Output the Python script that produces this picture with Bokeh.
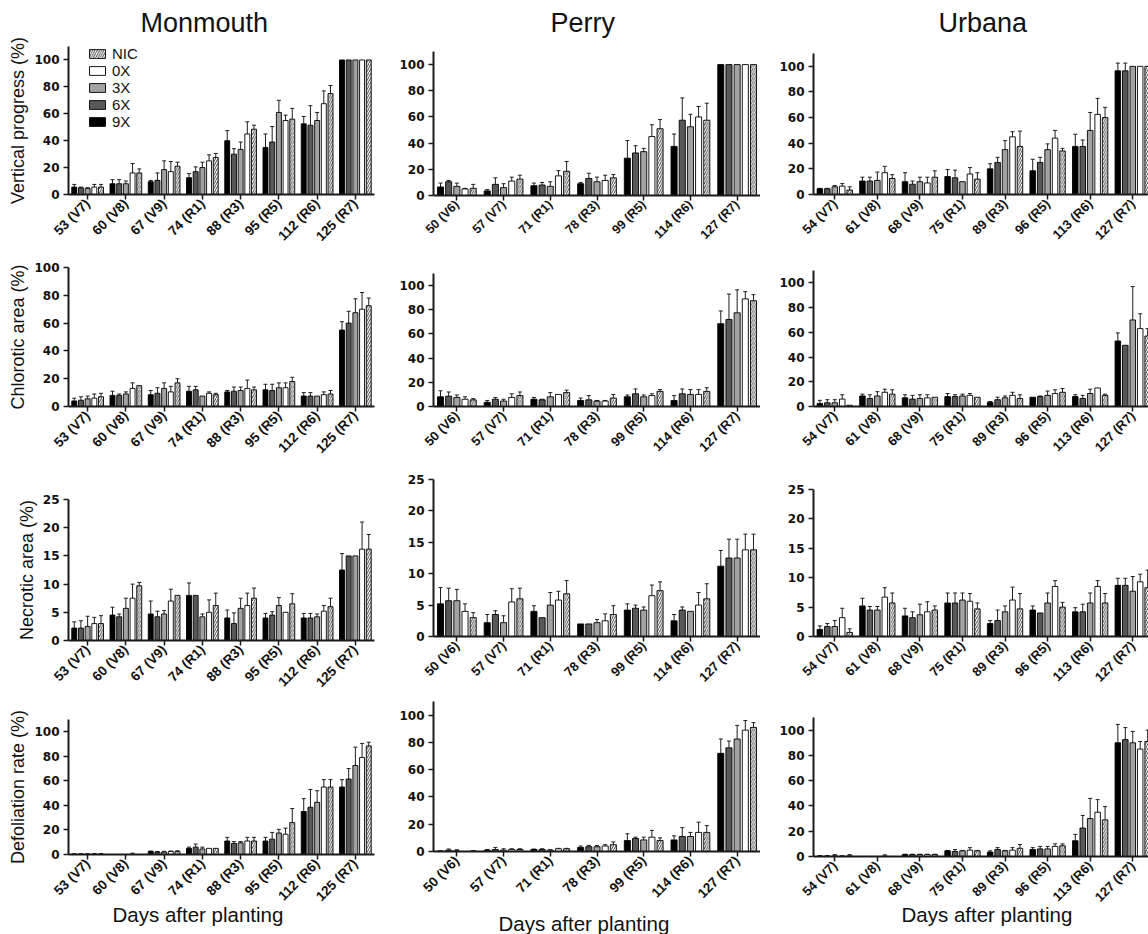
import numpy as np
from bokeh.plotting import figure
from bokeh.layouts import column, row
from bokeh.core.properties import value
from bokeh.models import (ColumnDataSource, Range1d, FixedTicker, Whisker, TeeHead,
                          Legend, LegendItem, Title)
from bokeh.embed import file_html
from bokeh.resources import INLINE

series = ["9X", "6X", "3X", "0X", "NIC"]
legend_order = ["NIC", "0X", "3X", "6X", "9X"]

mon_days = ["53 (V7)", "60 (V8)", "67 (V9)", "74 (R1)", "88 (R3)", "95 (R5)", "112 (R6)", "125 (R7)"]
per_days = ["50 (V6)", "57 (V7)", "71 (R1)", "78 (R3)", "99 (R5)", "114 (R6)", "127 (R7)"]
urb_days = ["54 (V7)", "61 (V8)", "68 (V9)", "75 (R1)", "89 (R3)", "96 (R5)", "113 (R6)", "127 (R7)"]

# each row = one sampling day; columns = 9X, 6X, 3X, 0X, NIC
mon_vp = [[5.5, 5, 4.5, 5.5, 5.5], [8, 8, 8, 16, 16], [9.5, 10.5, 18.5, 17, 21], [12.5, 17, 20, 25, 27.5],
          [40, 30, 33.5, 45, 48.5], [35, 39, 61, 55, 56], [52.5, 51.5, 55, 67.5, 75], [100, 100, 100, 100, 100]]
mon_vp_err = [[2, 0.5, 0.5, 2, 2], [3, 3, 2, 7, 3], [1, 5.5, 6.5, 7.5, 3], [3, 3.5, 4, 4.5, 3],
              [7.5, 4, 5.5, 9, 3], [10, 11.5, 9, 4, 8], [5.5, 14.5, 6, 9.5, 6], [0, 0, 0, 0, 0]]
per_vp = [[6.5, 10.5, 7, 5, 5.5], [3.5, 8.5, 6, 11, 12.5], [7.5, 8, 7, 15, 18.5], [9, 13, 10.5, 11.5, 13.5],
          [28.5, 32.5, 33.5, 45, 51], [37.5, 57.5, 52.5, 60, 57.5], [100, 100, 100, 100, 100]]
per_vp_err = [[3, 1, 2.5, 0.5, 3], [1, 5, 3, 3, 3], [2, 2, 3.5, 4, 7.5], [1, 4, 3.5, 4, 2.5],
              [13.5, 5.5, 2.5, 9, 7], [9.5, 17, 9.5, 8, 13], [0, 0, 0, 0, 0]]
urb_vp = [[4.5, 4.5, 6, 6.5, 3.5], [10.5, 10.5, 11, 17, 12.5], [10, 8, 10, 9, 13.5], [14, 13, 10, 16, 12],
          [20, 25, 35, 45, 37.5], [18.5, 25, 35, 44, 34], [37.5, 37.5, 50, 62.5, 60], [96.5, 96.5, 100, 100, 100]]
urb_vp_err = [[0.3, 0.3, 1, 2, 2.5], [3, 3, 6.5, 5, 3], [7, 2.5, 3.5, 4.5, 5], [5.5, 6, 0, 5, 5],
              [4, 4, 7, 4, 12], [9, 4, 4.5, 6, 2], [9.5, 5, 14, 12.5, 8], [6, 6, 0, 0, 0]]

mon_ch = [[4, 4.5, 5.5, 6, 7], [8, 8, 9, 13, 15], [8.5, 9.5, 13, 10.5, 17], [11, 12, 7.5, 9.5, 8.5],
          [10.5, 11, 11.5, 13, 12], [12, 11.5, 13.5, 13.5, 18], [7.5, 7.5, 7.5, 8.5, 9], [55, 60, 67.5, 70, 72.5]]
mon_ch_err = [[2, 2.5, 2, 3, 2.5], [3, 1, 1.5, 4, 0], [3, 4, 4, 4, 3], [3.5, 2.5, 0, 1, 1],
              [1, 3, 2.5, 6, 2], [4, 4.5, 3.5, 3.5, 3], [2.5, 2.5, 0, 2, 2.5], [6, 8.5, 10, 12, 5.5]]
per_ch = [[8, 8.5, 7.5, 6, 5.5], [3.5, 6, 4.5, 7.5, 9], [6, 5.5, 8, 10, 11.5], [5, 5.5, 4.5, 4.5, 7],
          [8, 10.5, 8, 9, 12.5], [5, 10.5, 10, 10, 12.5], [68.5, 72, 77.5, 89, 87.5]]
per_ch_err = [[5, 3.5, 2, 2, 1], [1.5, 1.5, 1.5, 3, 3], [1.5, 0.5, 3.5, 0, 2], [2, 3.5, 0.5, 0.5, 3],
              [1.5, 4, 1.5, 1.5, 1.5], [4, 4, 4, 4, 3], [10.5, 21, 19, 6, 5]]
urb_ch = [[2.5, 3, 3, 6, 1], [8.5, 6.5, 8.5, 11.5, 10], [7, 6, 6.5, 7, 7.5], [8, 8, 8.5, 9, 7.5],
          [3.5, 5.5, 7, 9, 6.5], [7.5, 8, 9, 10.5, 11.5], [8, 6.5, 10.5, 15, 9], [53, 49.5, 70, 63, 57]]
urb_ch_err = [[2.5, 2.5, 2.5, 3.5, 0], [1.5, 3, 3.5, 2.5, 3.5], [2.5, 3, 3, 2.5, 0], [2.5, 1.5, 1.5, 1.5, 0],
              [0.5, 2, 1.5, 2.5, 3], [0, 0.5, 3.5, 3, 3], [1.5, 2.5, 3.5, 0, 1], [6.5, 0, 27, 12, 6]]

mon_ne = [[2.2, 2.2, 2.5, 3, 3], [4.5, 4.2, 5.7, 7.5, 9.7], [4.7, 4.2, 4.7, 7, 8], [8, 8, 4.2, 5, 6.2],
          [4, 3, 5.7, 6.2, 7.5], [4, 4.5, 6.2, 5, 6.5], [4, 4, 4.2, 5.2, 6], [12.5, 15, 15, 16.2, 16.2]]
mon_ne_err = [[1.1, 1.3, 1.8, 1.1, 1.4], [1.4, 0.5, 1.8, 2.5, 0.6], [2.3, 1, 0.6, 2.1, 0], [2.2, 0, 0.5, 2.2, 2.2],
              [1.4, 1.9, 1.8, 2.2, 1.8], [0.8, 0.6, 1.4, 0, 1.8], [0.8, 0.8, 0.5, 1, 1.5], [2.9, 0, 0, 4.8, 2.6]]
per_ne = [[5.2, 5.7, 5.7, 4, 3], [2.2, 3.5, 2.2, 5.5, 6], [4, 3, 5, 5.8, 6.8], [2, 2, 2.2, 2.5, 3.5],
          [4.2, 4.5, 4.2, 6.5, 7.3], [2.5, 4.2, 4, 5, 6], [11.2, 12.5, 12.5, 13.8, 13.8]]
per_ne_err = [[2.6, 2, 1.8, 1.2, 0.8], [1.3, 0.6, 1.1, 2.1, 1.7], [0.9, 0, 2, 1.4, 2.1], [0, 0, 0.5, 1.1, 1.4],
              [1, 0.5, 0.5, 1.7, 1.4], [1, 0.5, 0, 2, 2.4], [2.5, 3, 3, 2.5, 2.5]]
urb_ne = [[1.2, 1.7, 1.7, 3.2, 0.7], [5.2, 4.5, 4.5, 6.7, 5.7], [3.5, 3.2, 3.7, 4.2, 4.5], [5.7, 5.7, 6.2, 6, 4.7],
          [2.2, 2.7, 4.2, 6.2, 4.7], [4.5, 4, 5.7, 8.5, 5], [4.2, 4.2, 5.7, 8.5, 5.7], [8.7, 8.7, 7.7, 9.3, 8.3]]
urb_ne_err = [[0.6, 0.5, 1, 1.6, 0.6], [1.3, 0.6, 0.6, 1.6, 1.7], [1.3, 1, 1.8, 1.7, 0.7], [1.7, 1.7, 1.2, 1.3, 1],
              [0.5, 1.8, 1, 2.2, 2.6], [0.7, 0, 1.7, 1, 0.8], [0.7, 1.3, 1.7, 1, 1.6], [1.2, 1.2, 2.5, 1.3, 3]]

mon_de = [[0.3, 0.3, 0.3, 0.3, 0.3], [0, 0, 0, 0.3, 0], [2.5, 2, 2, 2.5, 2.5], [5, 6, 4.5, 5, 5],
          [11, 9, 9.5, 11, 11], [11, 12.5, 17.5, 16.5, 26], [35, 38.5, 42.5, 55, 55], [55, 61.5, 72.5, 79, 88.5]]
mon_de_err = [[0.3, 0.3, 0.3, 0.5, 0.5], [0, 0, 0, 0.8, 0], [0.3, 0.5, 0.6, 0.3, 0.5], [1, 2.5, 1.5, 0, 0],
              [3, 1.5, 1, 3, 3], [3, 5.5, 3, 5, 11.5], [10.5, 14.5, 9.5, 6, 6], [6, 8.5, 15, 11.5, 3]]
per_de = [[0.3, 1, 0.5, 0, 0.3], [1, 1.5, 1, 1.5, 1.5], [1.5, 1.5, 1, 2, 2], [3, 3.5, 3.5, 4, 5],
          [8, 9.5, 8.5, 10.5, 8], [8.5, 11, 11, 14, 14], [72, 76, 82.5, 89, 91]]
per_de_err = [[0.3, 0.8, 0.8, 0, 0.3], [0.5, 1.5, 1, 0.5, 0.5], [0.3, 0.5, 0.3, 0.3, 0.3], [1, 1, 0.8, 1, 2],
              [5, 1, 2, 5, 2], [3, 6.5, 3, 7.5, 5], [10.5, 5, 10, 7, 3.5]]
urb_de = [[0.3, 0.3, 0.5, 0.3, 0.5], [0, 0, 0, 0.3, 0], [1.5, 1.5, 1.5, 1.5, 1.5], [4.5, 4, 4.5, 5, 4.5],
          [3.5, 5.5, 4.5, 5, 6.5], [5.5, 6, 6, 8, 8.5], [12.5, 22.5, 30, 35, 29], [90, 92.5, 90, 85, 91]]
urb_de_err = [[0.5, 0.5, 1, 0.3, 1], [0, 0, 0, 1, 0], [0.3, 0.3, 0.3, 0.3, 0.3], [0.3, 1.5, 0.3, 2, 0.3],
              [1, 1.5, 0.3, 2, 3], [1.5, 2, 2, 2, 1.5], [5, 10, 16, 10, 10.5], [14.5, 9.5, 9, 6, 9]]

sites = ["Monmouth", "Perry", "Urbana"]
y_labels = ["Vertical progress (%)", "Chlorotic area (%)", "Necrotic area (%)", "Defoliation rate (%)"]
x_title = "Days after planting"

FILL = {"9X": "#000000", "6X": "#585858", "3X": "#a2a2a2", "0X": "#ffffff", "NIC": "#ffffff"}
OFFS = {"9X": -0.35, "6X": -0.175, "3X": 0.0, "0X": 0.175, "NIC": 0.35}
BAR_W = 0.13

# layout (per column c, per row r)
head_h = [36, 40, 40]
title_mid = [14, 18, 18]     # vertical centre of the site name, measured up from the header bottom
col_w = [380, 380, 388]
x_end = [7.5, 6.5, 7.37]
b_left = [68, 53, 53]
b_right = [6, 0, 0]
fig_h = [[218, 212, 234, 234], [215, 211, 230, 238], [214, 212, 230, 238]]
b_top = [[10, 13, 33, 19], [11, 18, 13, 5], [13, 16, 23, 21]]
b_bot = [[60, 60, 60, 80], [60, 60, 60, 80], [60, 60, 60, 78]]
xlab_size = [[13.5, 13.5, 13.5, 13.5], [12.5, 13, 13, 13.5], [13, 13, 13, 13]]
title_x = [72, 117, 125]
xtitle_off = [44, 65, 88]
xtitle_standoff = [-24, 0, -24]


def make_header(c):
    frame_w = col_w[c] - b_left[c] - b_right[c]
    h = figure(width=col_w[c], height=head_h[c], output_backend="svg", toolbar_location=None,
               title=None, x_range=Range1d(0, frame_w), y_range=Range1d(0, head_h[c]),
               x_axis_location=None, y_axis_location=None,
               min_border_left=b_left[c], min_border_right=b_right[c],
               min_border_top=0, min_border_bottom=0)
    h.outline_line_color = None
    h.grid.visible = False
    h.text(x=[title_x[c]], y=[title_mid[c]], text=[sites[c]],
           text_font=value("Liberation Sans"), text_font_size="27px",
           text_color="#111111", text_baseline="middle", text_align="left")
    return h


def make_panel(r, c, days, means, errs, y_end, y_ticks):
    p = figure(width=col_w[c], height=fig_h[c][r], output_backend="svg", toolbar_location=None,
               title=None, x_range=Range1d(-0.5, x_end[c]), y_range=Range1d(0, y_end),
               min_border_left=b_left[c], min_border_top=b_top[c][r],
               min_border_bottom=b_bot[c][r], min_border_right=b_right[c])
    p.outline_line_color = None
    p.xgrid.visible = False
    p.ygrid.visible = False
    n = len(days)
    idx = np.arange(n)
    rends = {}
    for j, s in enumerate(series):
        m = np.array([d[j] for d in means], dtype=float)
        e = np.array([d[j] for d in errs], dtype=float)
        x = idx + OFFS[s]
        src = ColumnDataSource(dict(x=x, top=m))
        kw = dict(fill_color=FILL[s], line_color="#000000", line_width=0.9)
        if s == "NIC":
            kw.update(hatch_pattern="right_diagonal_line", hatch_color="#2b2b2b",
                      hatch_scale=4.5, hatch_weight=0.9)
        rends[s] = p.vbar(x="x", top="top", bottom=0, width=BAR_W, source=src, **kw)
        keep = e > 0
        wsrc = ColumnDataSource(dict(x=x[keep], lo=m[keep], up=(m + e)[keep]))
        p.add_layout(Whisker(source=wsrc, base="x", lower="lo", upper="up", dimension="height",
                             line_color="#1e1e1e", line_width=1, lower_head=None,
                             upper_head=TeeHead(size=4, line_color="#1e1e1e", line_width=1)))
    xa = p.xaxis[0]
    xa.ticker = FixedTicker(ticks=list(range(n)))
    xa.major_label_overrides = {i: d for i, d in enumerate(days)}
    xa.major_label_orientation = np.pi / 4
    xa.major_label_text_font = "Liberation Sans"
    xa.major_label_text_font_style = "bold"
    xa.major_label_text_font_size = f"{xlab_size[c][r]}px"
    xa.major_label_text_color = "#111111"
    xa.major_label_standoff = 2
    ya = p.yaxis[0]
    ya.ticker = FixedTicker(ticks=y_ticks)
    ya.major_label_text_font = "DejaVu Sans"
    ya.major_label_text_font_style = "bold"
    ya.major_label_text_font_size = "12px"
    ya.major_label_text_color = "#111111"
    ya.major_label_standoff = 4
    for ax in (xa, ya):
        ax.axis_line_width = 2
        ax.axis_line_color = "#1a1a1a"
        ax.major_tick_line_width = 1.5
        ax.major_tick_line_color = "#1a1a1a"
        ax.major_tick_in = 0
        ax.major_tick_out = 5
        ax.minor_tick_out = 0
        ax.minor_tick_in = 0
    if c == 0:
        ya.axis_label = y_labels[r]
        ya.axis_label_text_font = "Liberation Sans"
        ya.axis_label_text_font_style = "normal"
        ya.axis_label_text_font_size = "18px"
        ya.axis_label_text_color = "#111111"
        ya.axis_label_standoff = 3
    if r == 3:
        p.add_layout(Title(text=x_title, align="left", offset=xtitle_off[c],
                           standoff=xtitle_standoff[c], vertical_align="bottom",
                           text_font="Liberation Sans", text_font_size="20.5px",
                           text_font_style="normal", text_color="#111111"), "below")
    if r == 0 and c == 0:
        leg = Legend(items=[LegendItem(label=s, renderers=[rends[s]]) for s in legend_order],
                     location=(19, 64), orientation="vertical",
                     glyph_width=20, glyph_height=11, label_height=12, spacing=0,
                     padding=0, margin=0, label_standoff=5,
                     border_line_color=None, background_fill_alpha=0,
                     label_text_font="Liberation Sans", label_text_font_size="15px",
                     label_text_color="#111111")
        p.add_layout(leg)
    return p


ticks100 = [0, 20, 40, 60, 80, 100]
ticks25 = [0, 5, 10, 15, 20, 25]

mon_col = column([
    make_header(0),
    make_panel(0, 0, mon_days, mon_vp, mon_vp_err, 110, ticks100),
    make_panel(1, 0, mon_days, mon_ch, mon_ch_err, 100, ticks100),
    make_panel(2, 0, mon_days, mon_ne, mon_ne_err, 25, ticks25),
    make_panel(3, 0, mon_days, mon_de, mon_de_err, 110, ticks100)], spacing=0)
per_col = column([
    make_header(1),
    make_panel(0, 1, per_days, per_vp, per_vp_err, 110, ticks100),
    make_panel(1, 1, per_days, per_ch, per_ch_err, 110, ticks100),
    make_panel(2, 1, per_days, per_ne, per_ne_err, 25, ticks25),
    make_panel(3, 1, per_days, per_de, per_de_err, 110, ticks100)], spacing=0)
urb_col = column([
    make_header(2),
    make_panel(0, 2, urb_days, urb_vp, urb_vp_err, 110, ticks100),
    make_panel(1, 2, urb_days, urb_ch, urb_ch_err, 110, ticks100),
    make_panel(2, 2, urb_days, urb_ne, urb_ne_err, 25, ticks25),
    make_panel(3, 2, urb_days, urb_de, urb_de_err, 110, ticks100)], spacing=0)

layout = row([mon_col, per_col, urb_col], spacing=0)

html = file_html(layout, INLINE, title="Soybean panels")
with open("out.html", "w") as f:
    f.write(html)
